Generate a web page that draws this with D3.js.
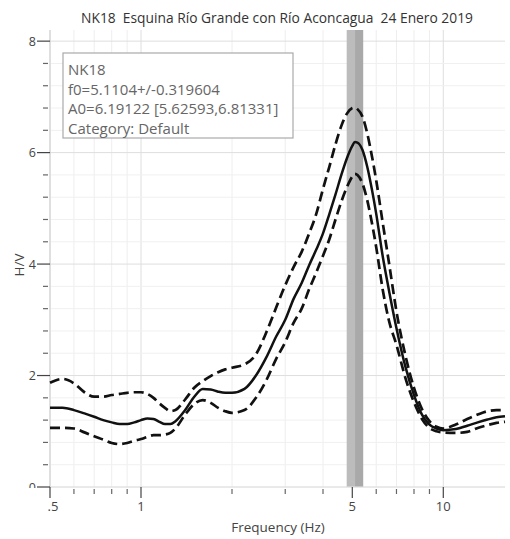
<!DOCTYPE html>
<html><head><meta charset="utf-8">
<script src="https://cdn.jsdelivr.net/npm/d3@7"></script>
<style>body{margin:0;background:#fff}svg{display:block}</style>
</head><body>
<svg id="c" width="510" height="539"></svg>
<script>
const title = "NK18  Esquina Río Grande con Río Aconcagua  24 Enero 2019";
const legendLines = ["NK18", "f0=5.1104+/-0.319604", "A0=6.19122 [5.62593,6.81331]", "Category: Default"];
const f0 = 5.1104, f0Std = 0.319604;
const freq = [0.5,0.55,0.6,0.65,0.7,0.75,0.8,0.85,0.9,0.95,1.0,1.05,1.1,1.15,1.2,1.25,1.3,1.4,1.5,1.6,1.7,1.8,1.9,2.0,2.2,2.4,2.6,2.8,3.0,3.2,3.4,3.6,3.8,4.0,4.2,4.4,4.6,4.8,5.0,5.1,5.2,5.4,5.6,5.8,6.0,6.3,6.6,7.0,7.5,8.0,8.5,9.0,9.5,10,11,12,13,14,15,16];
const hvMean = [1.42,1.42,1.38,1.32,1.26,1.20,1.16,1.13,1.13,1.16,1.20,1.23,1.22,1.17,1.13,1.13,1.18,1.38,1.62,1.76,1.75,1.71,1.69,1.69,1.76,2.00,2.33,2.70,3.00,3.38,3.66,3.98,4.26,4.55,4.90,5.25,5.60,5.90,6.12,6.19,6.18,6.05,5.75,5.35,4.90,4.15,3.55,2.85,2.15,1.65,1.30,1.12,1.05,1.02,1.04,1.10,1.16,1.21,1.25,1.27];
const hvUpper = [1.87,1.94,1.86,1.70,1.62,1.62,1.65,1.67,1.69,1.70,1.70,1.67,1.60,1.50,1.42,1.36,1.38,1.57,1.78,1.90,1.99,2.06,2.11,2.14,2.20,2.38,2.78,3.22,3.62,3.95,4.22,4.55,4.90,5.35,5.75,6.15,6.48,6.70,6.80,6.81,6.78,6.65,6.35,5.95,5.50,4.75,4.05,3.15,2.35,1.78,1.40,1.18,1.08,1.05,1.12,1.22,1.30,1.36,1.38,1.38];
const hvLower = [1.06,1.06,1.05,0.98,0.91,0.85,0.79,0.77,0.79,0.83,0.86,0.90,0.93,0.93,0.94,0.97,1.05,1.30,1.49,1.56,1.51,1.42,1.36,1.33,1.38,1.60,1.92,2.30,2.60,2.95,3.20,3.55,3.85,4.15,4.45,4.80,5.12,5.38,5.57,5.62,5.60,5.45,5.15,4.75,4.30,3.55,3.00,2.55,1.95,1.52,1.22,1.06,1.00,0.98,0.97,0.99,1.06,1.11,1.15,1.17];
const xMajor = [0.5,1,5,10];
const xMajorLabels = [".5","1","5","10"];
const xMinor = [0.6,0.7,0.8,0.9,2,3,4,6,7,8,9];
const yMajor = [0,2,4,6,8];
const yMinor = [0.4,0.8,1.2,1.6,2.4,2.8,3.2,3.6,4.4,4.8,5.2,5.6,6.4,6.8,7.2,7.6];

const svg = d3.select("#c");
const L = 50, R = 505, T = 30, B = 487;
const x = d3.scaleLog().domain([0.5, 16]).range([L, R]);
const y = d3.scaleLinear().domain([0, 8.2]).range([B, T]);
const font = "'Open Sans', 'Noto Sans', sans-serif";

// grid
const g = svg.append("g");
g.selectAll(".vm").data(xMinor).join("line").attr("x1", d=>x(d)).attr("x2", d=>x(d)).attr("y1", T).attr("y2", B).attr("stroke", "#eeeeee");
g.selectAll(".vM").data(xMajor).join("line").attr("x1", d=>x(d)).attr("x2", d=>x(d)).attr("y1", T).attr("y2", B).attr("stroke", "#dedede");
g.selectAll(".hm").data(yMinor).join("line").attr("x1", L).attr("x2", R).attr("y1", d=>y(d)).attr("y2", d=>y(d)).attr("stroke", "#f0f0f0");
g.selectAll(".hM").data(yMajor).join("line").attr("x1", L).attr("x2", R).attr("y1", d=>y(d)).attr("y2", d=>y(d)).attr("stroke", "#dedede");

// f0 band
svg.append("rect").attr("x", x(f0 - f0Std)).attr("width", x(f0 + f0Std) - x(f0 - f0Std)).attr("y", T).attr("height", B - T).attr("fill", "#bcbcbc");
svg.append("rect").attr("x", x(f0)).attr("width", x(f0 + f0Std) - x(f0)).attr("y", T).attr("height", B - T).attr("fill", "#a9a9a9");

// axes lines
svg.append("line").attr("x1", L).attr("x2", L).attr("y1", T).attr("y2", B).attr("stroke", "#cfcfcf");
svg.append("line").attr("x1", L).attr("x2", R).attr("y1", B).attr("y2", B).attr("stroke", "#e4e4e4");

// y ticks
svg.selectAll(".yt").data(yMajor).join("line").attr("x1", L - 13).attr("x2", L).attr("y1", d=>y(d)).attr("y2", d=>y(d)).attr("stroke", "#444").attr("stroke-width", 1.2);
svg.selectAll(".ytm").data(yMinor).join("line").attr("x1", L - 7).attr("x2", L - 2).attr("y1", d=>y(d)).attr("y2", d=>y(d)).attr("stroke", "#666").attr("stroke-width", 1.2);
svg.append("clipPath").attr("id", "yclip").append("rect").attr("x", 0).attr("y", 0).attr("width", L).attr("height", B + 1);
svg.append("g").attr("clip-path", "url(#yclip)").selectAll("text").data(yMajor).join("text")
  .attr("x", L - 14).attr("y", d=>y(d) + 4.5).attr("text-anchor", "end").attr("font-family", font).attr("font-size", 12.5).attr("fill", "#444")
  .text(d=>d);

// x ticks
svg.selectAll(".xt").data(xMajor).join("line").attr("x1", d=>x(d)).attr("x2", d=>x(d)).attr("y1", B).attr("y2", B + 11).attr("stroke", "#444").attr("stroke-width", 1.2);
svg.selectAll(".xtm").data(xMinor).join("line").attr("x1", d=>x(d)).attr("x2", d=>x(d)).attr("y1", B + 2).attr("y2", B + 7).attr("stroke", "#666").attr("stroke-width", 1.2);
svg.selectAll(".xl").data(xMajor).join("text").attr("x", (d,i)=>x(d) + (i===0?3:0)).attr("y", B + 24).attr("text-anchor", "middle")
  .attr("font-family", font).attr("font-size", 13).attr("fill", "#444").text((d,i)=>xMajorLabels[i]);

// axis titles
svg.append("text").attr("x", 278).attr("y", 532).attr("text-anchor", "middle").attr("font-family", font).attr("font-size", 13.5).attr("fill", "#444").text("Frequency (Hz)");
svg.append("text").attr("transform", "translate(24,265) rotate(-90)").attr("text-anchor", "middle").attr("font-family", font).attr("font-size", 13.5).attr("fill", "#444").text("H/V");
svg.append("text").attr("x", 277).attr("y", 23).attr("text-anchor", "middle").attr("font-family", font).attr("font-size", 13.8).attr("fill", "#333").style("white-space","pre").text(title);

// curves
const line = d3.line().x((d)=>x(d[0])).y(d=>y(d[1])).curve(d3.curveMonotoneX);
const mk = arr => freq.map((f,i)=>[f, arr[i]]);
svg.append("path").attr("d", line(mk(hvUpper))).attr("fill", "none").attr("stroke", "#111").attr("stroke-width", 2.7).attr("stroke-dasharray", "10,5");
svg.append("path").attr("d", line(mk(hvLower))).attr("fill", "none").attr("stroke", "#111").attr("stroke-width", 2.7).attr("stroke-dasharray", "10,5");
svg.append("path").attr("d", line(mk(hvMean))).attr("fill", "none").attr("stroke", "#111").attr("stroke-width", 2.5);

// legend box
const lg = svg.append("g");
lg.append("rect").attr("x", 63).attr("y", 53).attr("width", 230).attr("height", 85).attr("fill", "#fff").attr("stroke", "#aaa").attr("stroke-width", 1.2);
lg.selectAll("text").data(legendLines).join("text").attr("x", 68).attr("y", (d,i)=>75 + i*19.7)
  .attr("font-family", font).attr("font-size", 15).attr("fill", "#666").text(d=>d);
</script>
</body></html>
